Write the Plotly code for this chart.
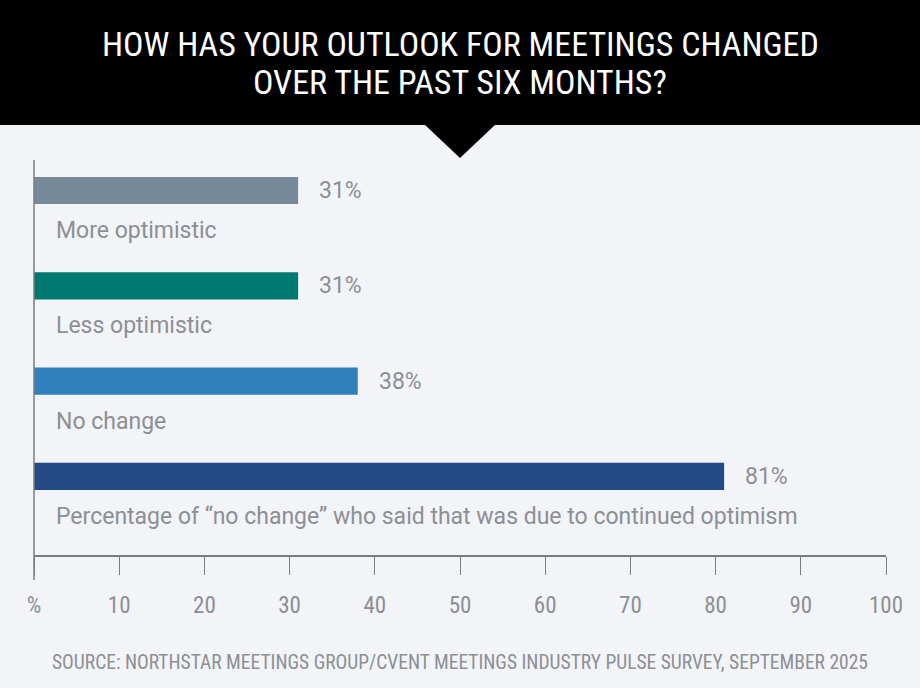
import plotly.graph_objects as go

categories = ["More optimistic", "Less optimistic", "No change",
              "Percentage of \u201cno change\u201d who said that was due to continued optimism"]
values = [31, 31, 38, 81]
value_labels = ["31%", "31%", "38%", "81%"]
bar_colors = ["#778a99", "#007a70", "#2f80bd", "#234a85"]
tick_vals = [0, 10, 20, 30, 40, 50, 60, 70, 80, 90, 100]
tick_text = ["%", "10", "20", "30", "40", "50", "60", "70", "80", "90", "100"]
title_lines = ["HOW HAS YOUR OUTLOOK FOR MEETINGS CHANGED", "OVER THE PAST SIX MONTHS?"]
source_text = "SOURCE: NORTHSTAR MEETINGS GROUP/CVENT MEETINGS INDUSTRY PULSE SURVEY, SEPTEMBER 2025"

W, H = 920, 688
BG = "#f2f4f8"
GRAY = "#8c8f94"
AXIS = "#7a7c80"
BODY = "Roboto, Lato, sans-serif"


def cond(s):
    return f'<span style="font-stretch:condensed">{s}</span>'


def px(x):
    return x / W


def py(y):
    return 1 - y / H


fig = go.Figure()
fig.add_trace(go.Bar(
    x=values, y=categories, orientation="h",
    marker=dict(color=bar_colors, line=dict(width=0)),
    width=0.285, hoverinfo="skip",
))

annotations = []
for c, v, lab in zip(categories, values, value_labels):
    annotations.append(dict(x=v, y=c, xref="x", yref="y", text=lab, showarrow=False,
                            xanchor="left", yanchor="middle", xshift=19,
                            font=dict(family=BODY, size=23, color=GRAY)))
    annotations.append(dict(x=0, y=c, xref="x", yref="y", text=c, showarrow=False,
                            xanchor="left", yanchor="middle", xshift=20, yshift=-40,
                            font=dict(family=BODY, size=23, color=GRAY)))

for i, t in enumerate(title_lines):
    annotations.append(dict(x=0.5, y=py(44 + 38 * i), xref="paper", yref="paper",
                            text=cond(t), showarrow=False, xanchor="center", yanchor="middle",
                            font=dict(family="Roboto", size=34, color="white")))
annotations.append(dict(x=0.5, y=py(662), xref="paper", yref="paper", text=cond(source_text),
                        showarrow=False, xanchor="center", yanchor="middle",
                        font=dict(family="Roboto", size=19.5, color=GRAY)))

shapes = [
    dict(type="rect", xref="paper", yref="paper", x0=0, x1=1, y0=py(125), y1=1,
         fillcolor="black", line=dict(width=0), layer="above"),
    dict(type="path", xref="paper", yref="paper",
         path=f"M {px(424)},{py(124)} L {px(496)},{py(124)} L {px(460)},{py(158)} Z",
         fillcolor="black", line=dict(width=0), layer="above"),
    dict(type="line", xref="paper", yref="paper", x0=px(34), x1=px(34), y0=py(160), y1=py(580),
         line=dict(color=AXIS, width=1.5)),
]

fig.update_layout(
    width=W, height=H, margin=dict(l=0, r=0, t=0, b=0, autoexpand=False),
    paper_bgcolor=BG, plot_bgcolor=BG, showlegend=False,
    annotations=annotations, shapes=shapes,
    xaxis=dict(domain=[px(34), px(886)], range=[0, 100], showgrid=False, zeroline=False,
               automargin=False,
               showline=True, linecolor=AXIS, linewidth=2,
               ticks="outside", ticklen=18, tickwidth=1, tickcolor=AXIS,
               tickvals=tick_vals, ticktext=[cond(t) for t in tick_text], ticklabelstandoff=10,
               tickfont=dict(family="Roboto", size=23, color=GRAY)),
    yaxis=dict(domain=[py(555), py(160)], type="category", categoryorder="array",
               categoryarray=categories, range=[3.824, -0.32], showgrid=False,
               automargin=False,
               zeroline=False, showline=False, showticklabels=False, ticks=""),
)

fig.write_html("out.html")
